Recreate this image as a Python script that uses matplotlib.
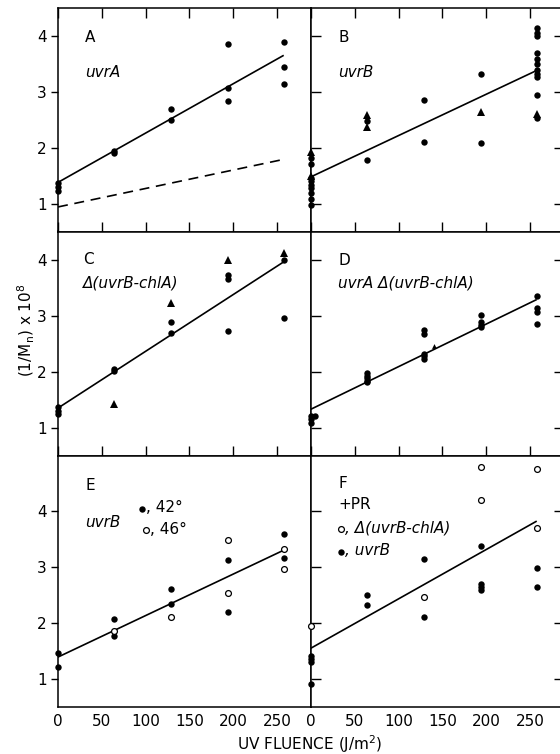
import matplotlib
matplotlib.use("Agg")
import matplotlib.pyplot as plt

plt.rcParams['font.family'] = ['DejaVu Sans']

# doses (J/m^2)
d0, d1, d2, d3, d4 = 0, 64, 129, 194, 258
fit_x = [0, 257]

# A  uvrA
A_x = [d0, d0, d0, d1, d1, d2, d2, d3, d3, d3, d4, d4, d4]
A_y = [1.37, 1.30, 1.23, 1.90, 1.95, 2.70, 2.49, 3.86, 3.07, 2.84, 3.89, 3.45, 3.14]
A_fit = [1.38, 3.65]
A_dash = [0.94, 1.79]

# B  uvrB
B_x = [d0] * 9 + [d1, d1, d2, d2, d3, d3] + [d4] * 11
B_y = [1.82, 1.71, 1.45, 1.40, 1.34, 1.28, 1.19, 1.09, 0.97,
       2.48, 1.79, 2.86, 2.11, 3.32, 2.08,
       4.14, 4.05, 4.00, 3.69, 3.60, 3.51, 3.39, 3.32, 3.26, 2.95, 2.53]
B_tri_x = [d0, d0, d1, d1, d3, d4]
B_tri_y = [1.93, 1.50, 2.58, 2.38, 2.65, 2.60]
B_fit = [1.48, 3.38]

# C  delta(uvrB-chlA)
C_x = [d0, d0, d0, d1, d1, d2, d2, d3, d3, d3, d4, d4]
C_y = [1.37, 1.30, 1.25, 2.05, 2.02, 2.89, 2.69, 3.73, 3.65, 2.72, 4.00, 2.95]
C_tri_x = [d1, d2, d3, d4]
C_tri_y = [1.42, 3.22, 3.99, 4.12]
C_fit = [1.35, 3.95]

# D  uvrA delta(uvrB-chlA)
D_x = [d0, d0, d0, 4] + [d1] * 5 + [d2] * 5 + [d3] * 4 + [d4] * 4
D_y = [1.21, 1.15, 1.09, 1.20,
       1.97, 1.93, 1.89, 1.84, 1.82,
       2.75, 2.68, 2.32, 2.27, 2.23,
       3.01, 2.89, 2.83, 2.79,
       3.35, 3.13, 3.07, 2.85]
D_tri_x = [141]
D_tri_y = [2.45]
D_fit = [1.33, 3.28]

# E  uvrB, 42 (filled) / 46 (open)
E_x = [d0, d0, d1, d1, d2, d2, d3, d3, d4, d4]
E_y = [1.46, 1.21, 2.08, 1.77, 2.61, 2.35, 3.13, 2.20, 3.60, 3.16]
E_open_x = [d1, d2, d3, d3, d4, d4]
E_open_y = [1.85, 2.11, 3.48, 2.54, 3.32, 2.96]
E_fit = [1.39, 3.30]

# F  +PR, uvrB (filled) / delta(uvrB-chlA) (open)
F_x = [d0, d0, d0, d0, d1, d1, d2, d2, d3, d3, d3, d3, d4, d4]
F_y = [1.41, 1.35, 1.30, 0.90, 2.51, 2.32, 3.14, 2.11, 3.39, 2.70, 2.65, 2.60, 2.98, 2.64]
F_open_x = [d0, d2, d3, d3, d4, d4]
F_open_y = [1.95, 2.46, 4.79, 4.21, 4.76, 3.71]
F_fit = [1.55, 3.82]

W, H = 560, 754
fig = plt.figure(figsize=(W / 100, H / 100), dpi=100)


def make_axes(left_px, top_px, bottom_px):
    return fig.add_axes([left_px / W, 1 - bottom_px / H, 253 / W, (bottom_px - top_px) / H])


axA = make_axes(58, 8.3, 231.5)
axB = make_axes(311, 8.3, 231.5)
axC = make_axes(58, 231.5, 455.7)
axD = make_axes(311, 231.5, 455.7)
axE = make_axes(58, 455.7, 706.7)
axF = make_axes(311, 455.7, 706.7)

dot = dict(ls='none', marker='o', color='black', ms=4.6, mew=0, clip_on=False, zorder=3)
tri = dict(ls='none', marker='^', color='black', ms=6, mew=0, clip_on=False, zorder=3)
opn = dict(ls='none', marker='o', mfc='white', mec='black', ms=4.2, mew=0.9,
           clip_on=False, zorder=4)
line = dict(color='black', lw=1.2)

for ax, row in [(axA, 0), (axB, 0), (axC, 1), (axD, 1), (axE, 2), (axF, 2)]:
    ax.set_xlim(0, 289)
    ax.set_ylim(0.5, 5.0 if row == 2 else 4.5)
    ax.set_yticks([1, 2, 3, 4])
    ax.set_xticks([0, 50, 100, 150, 200, 250])
    for s in ax.spines.values():
        s.set_linewidth(1.1)
    ax.tick_params(axis='x', which='both', direction='in', length=7, width=1,
                   top=(row == 0), bottom=(row != 2), labelbottom=(row == 2),
                   labelsize=11, pad=5)
    if row == 2:
        ax.tick_params(axis='x', length=0)
    if ax in (axA, axC, axE):
        ax.tick_params(axis='y', direction='out', length=5, width=1, labelsize=11, pad=3)
    else:
        ax.tick_params(axis='y', direction='in', length=7, width=1, left=True,
                       right=True, labelleft=False)

# panel A
axA.plot(fit_x, A_fit, **line)
axA.plot(fit_x, A_dash, color='black', lw=1.2, dashes=(6, 4))
axA.plot(A_x, A_y, **dot)
axA.text(31, 3.98, 'A', fontsize=11, va='center')
axA.text(31, 3.35, 'uvrA', fontsize=11, style='italic', va='center')

# panel B
axB.plot(fit_x, B_fit, **line)
axB.plot(B_x, B_y, **dot)
axB.plot(B_tri_x, B_tri_y, **tri)
axB.text(31, 3.98, 'B', fontsize=11, va='center')
axB.text(31, 3.35, 'uvrB', fontsize=11, style='italic', va='center')

# panel C
axC.plot(fit_x, C_fit, **line)
axC.plot(C_x, C_y, **dot)
axC.plot(C_tri_x, C_tri_y, **tri)
axC.text(29, 4.0, 'C', fontsize=11, va='center')
axC.text(29, 3.59, 'Δ(uvrB-chlA)', fontsize=11, style='italic', va='center')

# panel D
axD.plot(fit_x, D_fit, **line)
axD.plot(D_x, D_y, **dot)
axD.plot(D_tri_x, D_tri_y, ls='none', marker='^', color='black', ms=3.5, mew=0)
axD.text(31, 3.99, 'D', fontsize=11, va='center')
axD.text(31, 3.59, 'uvrA Δ(uvrB-chlA)', fontsize=11, style='italic', va='center')

# panel E
axE.plot(fit_x, E_fit, **line)
axE.plot(E_x, E_y, **dot)
axE.plot(E_open_x, E_open_y, **opn)
axE.text(31, 4.46, 'E', fontsize=11, va='center')
axE.text(31, 3.81, 'uvrB', fontsize=11, style='italic', va='center')
axE.plot([96], [4.05], **dot)
axE.text(101, 4.07, ', 42°', fontsize=11, va='center')
axE.plot([100], [3.66], **opn)
axE.text(105, 3.68, ', 46°', fontsize=11, va='center')

# panel F
axF.plot(fit_x, F_fit, **line)
axF.plot(F_x, F_y, **dot)
axF.plot(F_open_x, F_open_y, **opn)
axF.text(31, 4.5, 'F', fontsize=11, va='center')
axF.text(31, 4.12, '+PR', fontsize=11, va='center')
axF.plot([34], [3.68], **opn)
axF.text(39, 3.71, ', Δ(uvrB-chlA)', fontsize=11, style='italic', va='center')
axF.plot([34], [3.27], **dot)
axF.text(39, 3.30, ', uvrB', fontsize=11, style='italic', va='center')

fig.text(26 / W, 1 - 330 / H, '(1/M$_\\mathregular{n}$) x 10$^\\mathregular{8}$',
         rotation=90, fontsize=11, ha='center', va='center')
fig.text(310 / W, 1 - 744 / H, 'UV FLUENCE (J/m$^\\mathregular{2}$)',
         fontsize=11, ha='center', va='center')

fig.savefig('out.png', dpi=100)
